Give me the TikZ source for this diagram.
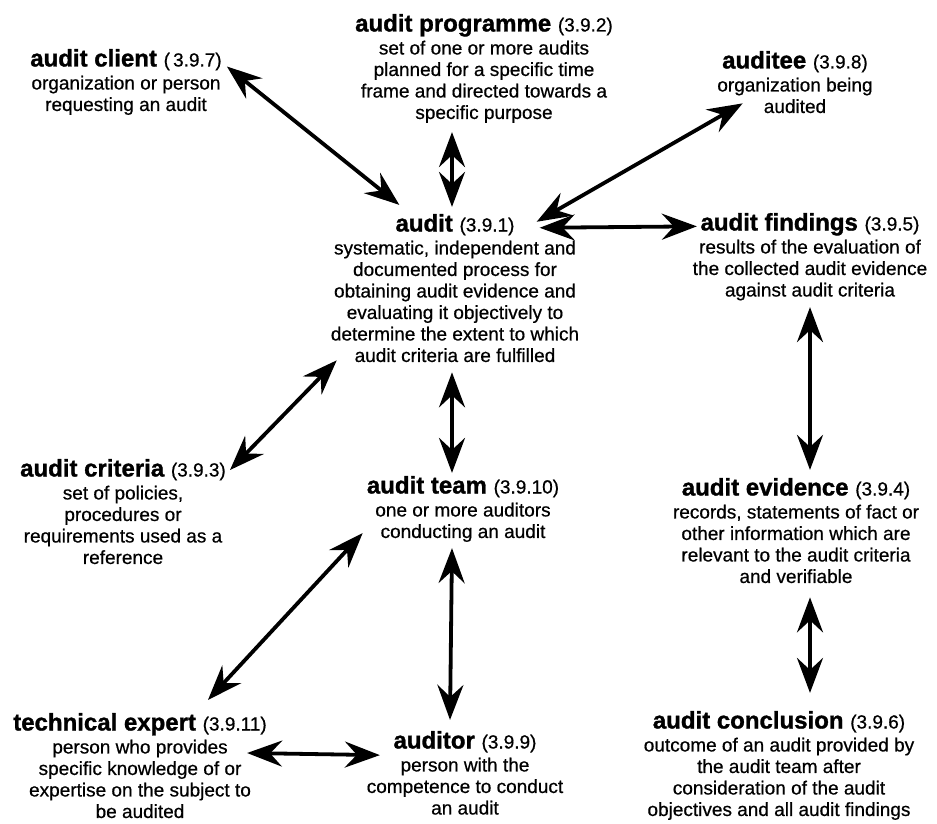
\documentclass[tikz,border=0pt]{standalone}
\usepackage{fontspec}
\setmainfont{Liberation Sans}
\usetikzlibrary{arrows.meta,calc}
\newcommand\termno[1]{{\fontsize{19}{21.5}\selectfont\mdseries
    \addfontfeatures{FakeBold=0.6}(#1)}}

\begin{document}
\begin{tikzpicture}[
    x=1pt, y=-1pt,
    term/.style={anchor=base, inner sep=0pt,
        font=\fontsize{24}{26}\selectfont\bfseries\addfontfeatures{FakeBold=1.2}},
    desc/.style={anchor=north, inner sep=0pt, align=center,
        font=\fontsize{19}{21.5}\selectfont\addfontfeatures{FakeBold=0.6}},
    link/.style={line width=3.8pt,
        {Stealth[length=35pt,width=26pt,inset=12pt]}-{Stealth[length=35pt,width=26pt,inset=12pt]}},
]
    \useasboundingbox (0, 0) rectangle (937, 824);

    %% the terms, each a title with its definition below
    \node[term] (client) at (126, 66.5) {audit client \termno{\,3.9.7}};
    \node[desc] (client-d) at ($(client.base)+(0,9)$)
        {organization or person\\ requesting an audit};

    \node[term] (prog) at (484, 31.5) {audit programme \termno{3.9.2}};
    \node[desc] (prog-d) at ($(prog.base)+(0,9)$)
        {set of one or more audits\\ planned for a specific time\\
         frame and directed towards a\\ specific purpose};

    \node[term] (auditee) at (795, 68.5) {auditee \termno{3.9.8}};
    \node[desc] (auditee-d) at ($(auditee.base)+(0,9)$)
        {organization being\\ audited};

    \node[term] (audit) at (455, 231.5) {audit \termno{3.9.1}};
    \node[desc] (audit-d) at ($(audit.base)+(0,9)$)
        {systematic, independent and\\ documented process for\\
         obtaining audit evidence and\\ evaluating it objectively to\\
         determine the extent to which\\ audit criteria are fulfilled};

    \node[term] (findings) at (810, 230.5) {audit findings \termno{3.9.5}};
    \node[desc] (findings-d) at ($(findings.base)+(0,9)$)
        {results of the evaluation of\\ the collected audit evidence\\
         against audit criteria};

    \node[term] (criteria) at (123, 476.5) {audit criteria \termno{3.9.3}};
    \node[desc] (criteria-d) at ($(criteria.base)+(0,9)$)
        {set of policies,\\ procedures or\\ requirements used as a\\ reference};

    \node[term] (team) at (463, 493.5) {audit team \termno{3.9.10}};
    \node[desc] (team-d) at ($(team.base)+(0,9)$)
        {one or more auditors\\ conducting an audit};

    \node[term] (evidence) at (796, 495.5) {audit evidence \termno{3.9.4}};
    \node[desc] (evidence-d) at ($(evidence.base)+(0,9)$)
        {records, statements of fact or\\ other information which are\\
         relevant to the audit criteria\\ and verifiable};

    \node[term] (expert) at (140, 730.5) {technical expert \termno{3.9.11}};
    \node[desc] (expert-d) at ($(expert.base)+(0,9)$)
        {person who provides\\ specific knowledge of or\\
         expertise on the subject to\\ be audited};

    \node[term] (auditor) at (465, 748.5) {auditor \termno{3.9.9}};
    \node[desc] (auditor-d) at ($(auditor.base)+(0,9)$)
        {person with the\\ competence to conduct\\ an audit};

    \node[term] (conclusion) at (779, 728.5) {audit conclusion \termno{3.9.6}};
    \node[desc] (conclusion-d) at ($(conclusion.base)+(0,9)$)
        {outcome of an audit provided by\\ the audit team after\\
         consideration of the audit\\ objectives and all audit findings};

    %% the links, all two-headed
    \draw[link] ($(client.base east)+(5,0)$) -- ($(audit.north west)+(4,-9)$);
    \draw[link] ($(prog-d.south)+(-32,9)$) -- ($(audit.north)+(-3,-7)$);
    \draw[link] ($(auditee-d.south west)+(25.5,-10)$) -- ($(audit.east)+(22,-3)$);
    \draw[link] ($(audit.east)+(25,3)$) -- ($(findings.west)+(-3.5,2)$);
    \draw[link] ($(criteria.base east)+(4,-6.5)$) -- ($(audit-d.south west)+(6,-2)$);
    \draw[link] ($(audit-d.south)+(-3,10)$) -- ($(team.north)+(-11,-3)$);
    \draw[link] ($(findings-d.south)+(0,6.5)$) -- ($(evidence.north)+(14,-8)$);
    \draw[link] ($(evidence-d.south)+(14,14)$) -- ($(conclusion.north)+(31,-18)$);
    \draw[link] ($(team-d.south west)+(-12.5,-9)$) -- ($(expert.north)+(68,-13)$);
    \draw[link] ($(team-d.south)+(-11,6)$) -- ($(auditor.north)+(-15,-11)$);
    \draw[link] ($(expert-d.north east)+(-4,13.5)$) -- ($(auditor.south west)+(-13.5,2.5)$);
\end{tikzpicture}
\end{document}
